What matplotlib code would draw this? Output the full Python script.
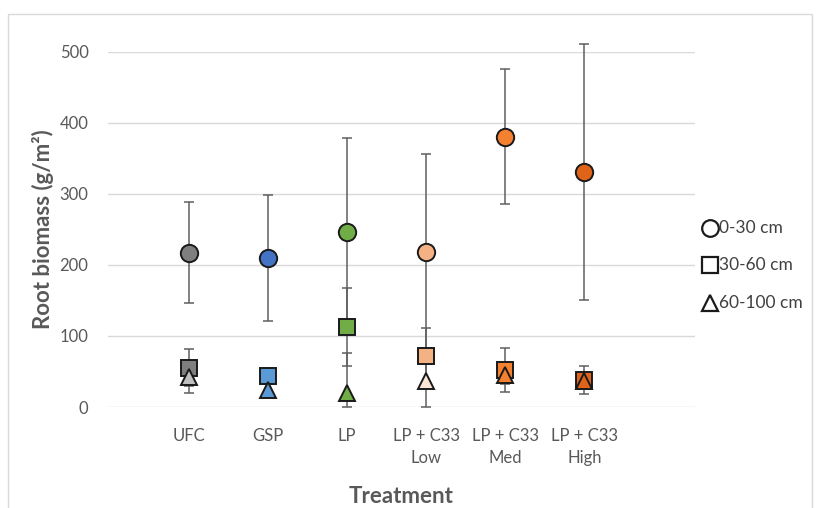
import matplotlib
matplotlib.use("Agg")
import matplotlib.pyplot as plt
from matplotlib.lines import Line2D
from matplotlib.patches import Rectangle
import numpy as np

plt.rcParams['font.family'] = ['Lato', 'DejaVu Sans']

treatments = ["UFC", "GSP", "LP", "LP + C33\nLow", "LP + C33\nMed", "LP + C33\nHigh"]
depth_labels = ["0-30 cm", "30-60 cm", "60-100 cm"]

d0_30 = [217, 210, 246, 218, 380, 331]
e0_30 = [71, 89, 132, 138, 95, 180]
d30_60 = [55, 44, 113, 72, 52, 38]
e30_60 = [26, 8, 55, 39, 31, 20]
d60_100 = [42, 24, 20, 37, 45, 36]
e60_100 = [22, 8, 56, 40, 12, 10]

colors_0_30 = ["#7f7f7f", "#4472c4", "#70ad47", "#f4b183", "#f3812f", "#e0631a"]
colors_30_60 = ["#7f7f7f", "#5b9bd5", "#70ad47", "#f4b183", "#f3812f", "#e0631a"]
colors_60_100 = ["#bfbfbf", "#5b9bd5", "#70ad47", "#fbe5d6", "#f3812f", "#e0631a"]

W, H = 821, 508
fig = plt.figure(figsize=(W / 100, H / 100), dpi=100)
ax = fig.add_axes([108 / W, (H - 407) / H, (695 - 108) / W, (407 - 51.7) / H])

x = np.arange(len(treatments))
series = [
    (d0_30, e0_30, colors_0_30, "o", 12.5),
    (d30_60, e30_60, colors_30_60, "s", 11.5),
    (d60_100, e60_100, colors_60_100, "^", 12),
]

for vals, errs, cols, mk, ms in series:
    vals = np.array(vals, dtype=float)
    errs = np.array(errs, dtype=float)
    lower = np.minimum(errs, vals)
    ax.errorbar(x, vals, yerr=[lower, errs], fmt="none", ecolor="#5f5f5f",
                elinewidth=1.1, capsize=3.5, capthick=1.1, zorder=2, clip_on=False)

for vals, errs, cols, mk, ms in series:
    for xi, v, c in zip(x, vals, cols):
        ax.plot([xi], [v], marker=mk, markersize=ms, markerfacecolor=c,
                markeredgecolor="#1a1a1a", markeredgewidth=1.4, linestyle="none",
                zorder=3, clip_on=False)

ax.set_xlim(-1.025, 6.4)
ax.set_ylim(0, 500)
ax.set_yticks([0, 100, 200, 300, 400, 500])
ax.set_xticks(x)
ax.set_xticklabels(treatments, linespacing=1.5)
ax.grid(axis="y", color="#d9d9d9", linewidth=1.0)
ax.set_axisbelow(True)
for s in ax.spines.values():
    s.set_visible(False)
ax.tick_params(axis="both", length=0, labelcolor="#595959", labelsize=12)
ax.tick_params(axis="y", pad=14)
ax.tick_params(axis="x", pad=15)

ax.set_xlabel("Treatment", fontsize=16, fontweight="bold", color="#595959", labelpad=14)
ax.set_ylabel("Root biomass (g/m²)", fontsize=16, fontweight="bold", color="#595959", labelpad=4)

# legend
leg_y = [228, 265, 303]
leg_mk = [("o", 12), ("s", 11), ("^", 12)]
for (mk, ms), yy, lab in zip(leg_mk, leg_y, depth_labels):
    fig.add_artist(Line2D([710 / W], [(H - yy) / H], transform=fig.transFigure,
                          marker=mk, markersize=ms, markerfacecolor="white",
                          markeredgecolor="#1a1a1a", markeredgewidth=1.6, linestyle="none"))
    fig.text(719 / W, (H - yy) / H, lab, fontsize=12.5, color="#404040", va="center", ha="left")

fig.add_artist(Rectangle((8 / W, -0.01), (812 - 8) / W, (H - 14) / H + 0.01,
                         transform=fig.transFigure, fill=False, edgecolor="#d9d9d9", linewidth=1))

fig.savefig("out.png", dpi=100)
